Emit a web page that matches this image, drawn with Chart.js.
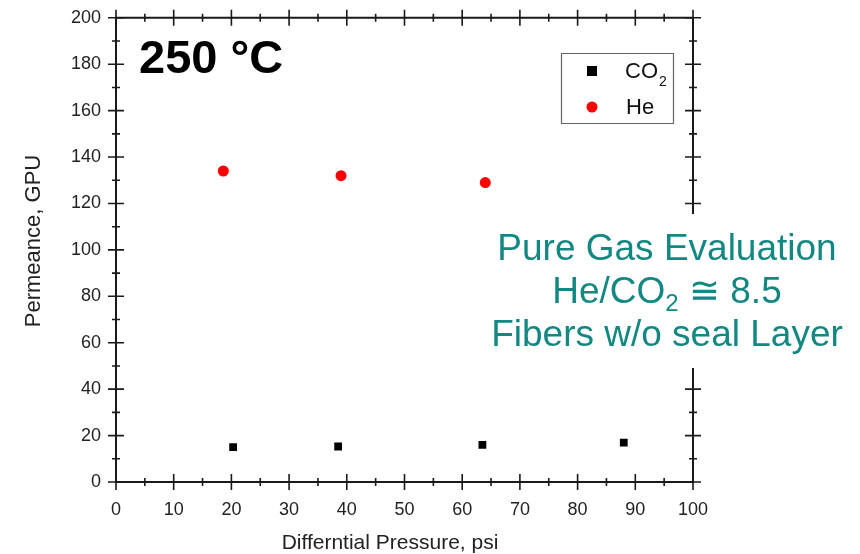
<!DOCTYPE html>
<html>
<head>
<meta charset="utf-8">
<script src="https://cdn.jsdelivr.net/npm/chart.js@4.4.1/dist/chart.umd.min.js"></script>
<style>
  html, body { margin: 0; padding: 0; background: #fff; }
  #wrap { width: 860px; height: 554px; }
</style>
</head>
<body>
<div id="wrap"><canvas id="c" width="860" height="554"></canvas></div>
<script>
// ---- data ----
const co2Pressure = [20.3, 38.5, 63.5, 88.0];
const co2Permeance = [15.0, 15.3, 16.0, 17.0];
const hePressure = [18.6, 39.0, 64.0];
const hePermeance = [134, 132, 129];
const xTicks = [0, 10, 20, 30, 40, 50, 60, 70, 80, 90, 100];
const yTicks = [0, 20, 40, 60, 80, 100, 120, 140, 160, 180, 200];
const seriesNames = ['CO', 'He'];
const xTitle = 'Differntial Pressure, psi';
const yTitle = 'Permeance, GPU';
const tempLabel = '250 \u00B0C';
const noteLines = ['Pure Gas Evaluation', 'He/CO', 'Fibers w/o seal Layer'];
const noteRatio = ' \u2245 8.5';

const FONT = '"Liberation Sans", Arial, sans-serif';
const AX = '#1a1a1a';
const TEAL = '#138782';

const overlay = {
  id: 'overlay',
  afterDraw(chart) {
    const ctx = chart.ctx;
    const xs = chart.scales.x, ys = chart.scales.y;
    const L = xs.left, R = xs.right, T = ys.top, B = ys.bottom;
    ctx.save();
    ctx.strokeStyle = AX;
    ctx.lineWidth = 2;
    ctx.lineCap = 'butt';
    // frame
    ctx.beginPath();
    ctx.rect(L, T, R - L, B - T);
    ctx.stroke();
    // ticks (crossing, all four sides)
    ctx.lineWidth = 1.6;
    for (let v = 0; v <= 100; v += 5) {
      const p = xs.getPixelForValue(v);
      const len = (v % 10 === 0) ? 8 : 4;
      ctx.beginPath();
      ctx.moveTo(p, B - len); ctx.lineTo(p, B + len);
      ctx.moveTo(p, T - len); ctx.lineTo(p, T + len);
      ctx.stroke();
    }
    for (let v = 0; v <= 200; v += 10) {
      const p = ys.getPixelForValue(v);
      const len = (v % 20 === 0) ? 8 : 4;
      ctx.beginPath();
      ctx.moveTo(L - len, p); ctx.lineTo(L + len, p);
      ctx.moveTo(R - len, p); ctx.lineTo(R + len, p);
      ctx.stroke();
    }
    // axis titles
    ctx.fillStyle = '#222';
    ctx.font = '21px ' + FONT;
    ctx.textAlign = 'center';
    ctx.textBaseline = 'middle';
    ctx.fillText(xTitle, 390, 543);
    ctx.save();
    ctx.translate(34, 241);
    ctx.rotate(-Math.PI / 2);
    ctx.font = '22px ' + FONT;
    ctx.fillText(yTitle, 0, 0);
    ctx.restore();

    // temperature label
    ctx.fillStyle = '#000';
    ctx.font = 'bold 47px ' + FONT;
    ctx.textAlign = 'left';
    ctx.textBaseline = 'alphabetic';
    ctx.fillText(tempLabel, 139, 73);

    // legend box
    ctx.strokeStyle = '#666';
    ctx.lineWidth = 1.2;
    ctx.fillStyle = '#fff';
    ctx.beginPath();
    ctx.rect(561.5, 53.5, 112, 70);
    ctx.fill();
    ctx.stroke();
    ctx.fillStyle = '#000';
    ctx.fillRect(587, 66, 10, 10);
    ctx.fillStyle = '#ff0000';
    ctx.beginPath();
    ctx.arc(592, 107, 5.5, 0, Math.PI * 2);
    ctx.fill();
    ctx.fillStyle = '#111';
    ctx.font = '22px ' + FONT;
    ctx.textBaseline = 'alphabetic';
    ctx.fillText(seriesNames[0], 625, 78);
    const cw = ctx.measureText(seriesNames[0]).width;
    ctx.font = '14px ' + FONT;
    ctx.fillText('2', 626 + cw, 86);
    ctx.font = '22px ' + FONT;
    ctx.fillText(seriesNames[1], 626, 114);

    // note box
    ctx.fillStyle = '#fff';
    ctx.fillRect(486, 214, 364, 154);
    ctx.fillStyle = TEAL;
    const cx = 667;
    ctx.font = '37px ' + FONT;
    ctx.textAlign = 'center';
    ctx.fillText(noteLines[0], cx, 260);
    ctx.fillText(noteLines[2], cx, 346);
    // middle line with subscript
    ctx.textAlign = 'left';
    ctx.font = '37px ' + FONT;
    const w1 = ctx.measureText(noteLines[1]).width;
    ctx.font = '24px ' + FONT;
    const w2 = ctx.measureText('2').width;
    ctx.font = '37px ' + FONT;
    const w3 = ctx.measureText(noteRatio).width;
    let x0 = cx - (w1 + w2 + w3) / 2;
    ctx.fillText(noteLines[1], x0, 303);
    ctx.font = '24px ' + FONT;
    ctx.fillText('2', x0 + w1, 311);
    ctx.font = '37px ' + FONT;
    ctx.fillText(noteRatio, x0 + w1 + w2, 303);
    ctx.restore();
  }
};

new Chart(document.getElementById('c'), {
  type: 'scatter',
  data: {
    datasets: [
      {
        label: 'CO2',
        data: co2Pressure.map((x, i) => ({ x: x, y: co2Permeance[i] })),
        pointStyle: 'rect',
        pointRadius: 5.5,
        backgroundColor: '#000',
        borderColor: '#000',
        borderWidth: 0
      },
      {
        label: 'He',
        data: hePressure.map((x, i) => ({ x: x, y: hePermeance[i] })),
        pointStyle: 'circle',
        pointRadius: 5.5,
        backgroundColor: '#ff0000',
        borderColor: '#ff0000',
        borderWidth: 0
      }
    ]
  },
  options: {
    responsive: false,
    animation: false,
    devicePixelRatio: 1,
    layout: { padding: { left: 0, top: 17, right: 167, bottom: 0 } },
    plugins: { legend: { display: false }, tooltip: { enabled: false } },
    scales: {
      x: {
        type: 'linear', min: 0, max: 100,
        afterBuildTicks: (s) => { s.ticks = xTicks.map(v => ({ value: v })); },
        afterFit: (s) => { s.height = 72; },
        grid: { display: false },
        border: { display: false },
        ticks: { padding: 9, color: '#222', font: { family: FONT, size: 18 }, maxRotation: 0 }
      },
      y: {
        type: 'linear', min: 0, max: 200,
        afterBuildTicks: (s) => { s.ticks = yTicks.map(v => ({ value: v })); },
        afterFit: (s) => { s.width = 116; },
        grid: { display: false },
        border: { display: false },
        ticks: { padding: 7, color: '#222', font: { family: FONT, size: 18 } }
      }
    }
  },
  plugins: [overlay]
});
</script>
</body>
</html>
